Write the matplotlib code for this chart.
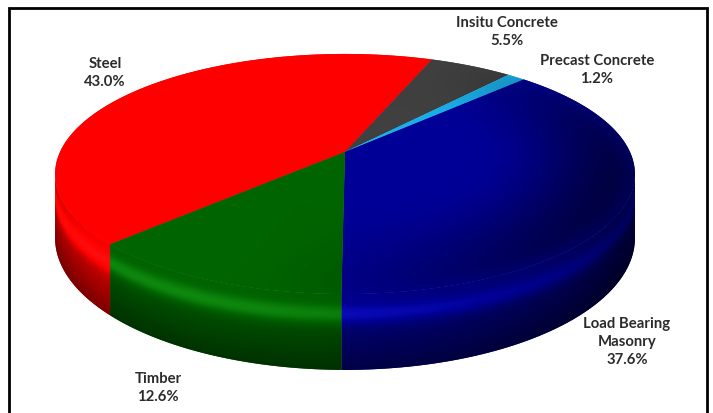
import numpy as np
import matplotlib
matplotlib.use('Agg')
import matplotlib.pyplot as plt
from matplotlib.patches import Polygon
from matplotlib.colors import to_rgb

# ---- data ----
categories = ['Steel', 'Insitu Concrete', 'Precast Concrete', 'Load Bearing\nMasonry', 'Timber']
values = [43.0, 5.5, 1.2, 37.6, 12.6]
colors = ['#FF0000', '#404040', '#1AAEE8', '#000096', '#006400']

# ---- layout / style ----
W, H = 713, 414
start_angle = 224.0          # Steel starts here, slices go clockwise
cx, cy = 345, 153            # projected centre of the pie top
A, B, K, D = 285, 116, 0.183, 62
label_pos = [(105, 73), (507, 32), (597, 70), (627, 342), (158, 388)]


def proj(x, y, z):
    w = 1 + K * y
    return cx + A * x / w, cy - B * y / w - D * z / w


def shade_img(rgb, b):
    c = np.array(rgb)[None, None, :]
    bb = b[:, :, None]
    out = np.clip(c * bb, 0, 1)
    extra = np.clip(bb - 1, 0, None)
    out = out + (1 - out) * extra * 0.2
    return np.clip(out, 0, 1)


fig = plt.figure(figsize=(W / 100, H / 100), dpi=100)
ax = fig.add_axes([0, 0, 1, 1])
ax.set_xlim(0, W)
ax.set_ylim(H, 0)
ax.axis('off')

# slice angle bounds (degrees), clockwise from start_angle
total = sum(values)
bounds = []
a = start_angle
for v in values:
    a2 = a - 360 * v / total
    bounds.append((a2, a))
    a = a2

# ---- shading maps (pixel grid) ----
X, Y = np.meshgrid(np.arange(W) + 0.5, np.arange(H) + 0.5)
u = (X - cx) / A
v = -(Y - cy) / B
yy = v / (1 - K * v)
xx = u * (1 + K * yy)
r_top = np.hypot(xx, yy)
th_top = np.arctan2(yy, xx)
f = np.clip(np.cos(th_top - np.radians(340)), 0, None) ** 1.5
t = np.clip((r_top - 0.45) / 0.55, 0, 1)
sm = t * t * (3 - 2 * t)
rim = 0.15 * np.exp(-((r_top - 1.0) / 0.05) ** 2)
b_top = 1 - 0.6 * sm * f + rim * f

th_lo = np.pi + np.arcsin(K)
th_hi = 2 * np.pi - np.arcsin(K)
th_tab = np.linspace(th_lo, th_hi, 2000)
u_tab = np.cos(th_tab) / (1 + K * np.sin(th_tab))
th_side = np.interp(u, u_tab, th_tab)
w_side = 1 + K * np.sin(th_side)
s_side = np.clip((Y - cy + B * np.sin(th_side) / w_side) * w_side / D, 0, 1)
ang = 0.5 + 0.5 * np.clip(np.cos(th_side - np.radians(240)), 0, None)
vert = 1 - 0.5 * s_side
hl = 0.42 * np.exp(-((s_side - 0.27) / 0.13) ** 2)
b_side = ang * (vert + hl)

# ---- side walls ----
lo_d, hi_d = np.degrees(th_lo), np.degrees(th_hi)
for (t0, t1), col in zip(bounds, colors):
    rgb = to_rgb(col)
    img = shade_img(rgb, b_side)
    for k in (-1, 0, 1):
        a0 = max(t0, lo_d + 360 * k)
        a1 = min(t1, hi_d + 360 * k)
        if a1 <= a0:
            continue
        ts = np.radians(np.linspace(a0, a1, max(3, int(a1 - a0) * 2)))
        pts = [proj(np.cos(q), np.sin(q), 0) for q in ts] + \
              [proj(np.cos(q), np.sin(q), -1) for q in ts[::-1]]
        poly = Polygon(pts, closed=True, facecolor=rgb, edgecolor='none')
        ax.add_patch(poly)
        im = ax.imshow(img, extent=(0, W, H, 0), interpolation='bilinear', zorder=1)
        im.set_clip_path(poly)

# ---- top faces ----
for (t0, t1), col in zip(bounds, colors):
    rgb = to_rgb(col)
    ts = np.radians(np.linspace(t0, t1, max(3, int(t1 - t0) * 2)))
    pts = [proj(0, 0, 0)] + [proj(np.cos(q), np.sin(q), 0) for q in ts]
    poly = Polygon(pts, closed=True, facecolor=rgb, edgecolor='none', zorder=2)
    ax.add_patch(poly)
    im = ax.imshow(shade_img(rgb, b_top), extent=(0, W, H, 0), interpolation='bilinear', zorder=2)
    im.set_clip_path(poly)

ax.set_xlim(0, W)
ax.set_ylim(H, 0)

# ---- labels ----
for name, val, (x, y) in zip(categories, values, label_pos):
    ax.text(x, y, f"{name}\n{val:.1f}%", ha='center', va='center', fontsize=10.7,
            fontweight='bold', family='Lato', color='#2b2b2b', linespacing=1.38, zorder=5)

# ---- frame ----
ax.plot([9, 9, 707, 707], [414, 9, 9, 414], color='black', lw=2, clip_on=False,
        solid_joinstyle='miter', zorder=6)

fig.savefig('out.png', dpi=100)
